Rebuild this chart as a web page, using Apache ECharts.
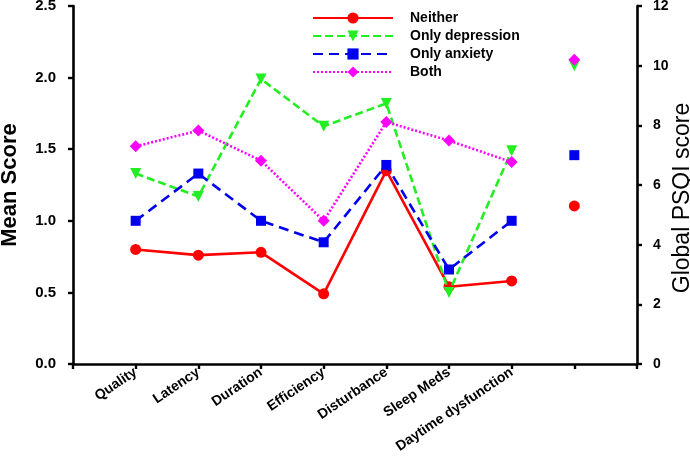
<!DOCTYPE html>
<html><head><meta charset="utf-8">
<script src="https://cdn.jsdelivr.net/npm/echarts@6/dist/echarts.min.js"></script>
<style>html,body{margin:0;padding:0;background:#fff}#c{width:690px;height:461px}</style>
</head><body><div id="c"></div>
<script>
var categories = ['', 'Quality', 'Latency', 'Duration', 'Efficiency', 'Disturbance', 'Sleep Meds', 'Daytime dysfunction', '', ''];
var seriesNames = ['Neither', 'Only depression', 'Only anxiety', 'Both'];
var neither = [0.80, 0.76, 0.78, 0.49, 1.35, 0.54, 0.58];
var onlyDepression = [1.33, 1.17, 1.99, 1.66, 1.82, 0.50, 1.49];
var onlyAnxiety = [1.00, 1.33, 1.00, 0.85, 1.39, 0.66, 1.00];
var both = [1.52, 1.63, 1.42, 1.00, 1.69, 1.56, 1.41];
var globalPSQI = [5.3, 10.0, 7.0, 10.2];
var leftTitle = 'Mean Score';
var rightTitle = 'Global PSQI score';

var font = 'Liberation Sans, Arial, sans-serif';
var styles = [
  {color: '#ff0000', type: 'solid', symbol: 'circle', size: 11, rot: 0},
  {color: '#22ee22', type: [8, 4], symbol: 'triangle', size: 11, rot: 180},
  {color: '#0000ee', type: [10, 6], symbol: 'rect', size: 10, rot: 0},
  {color: '#ff00ff', type: [2, 2], symbol: 'diamond', size: 12, rot: 0}
];
var values = [neither, onlyDepression, onlyAnxiety, both];

function pad(arr) { return [null].concat(arr).concat([null, null]); }
function globalPad(v) { var a = []; for (var i = 0; i < categories.length; i++) a.push(i === 8 ? v : null); return a; }

var series = [];
seriesNames.forEach(function (n, i) {
  var s = styles[i];
  series.push({
    name: n, type: 'line', yAxisIndex: 0, data: pad(values[i]),
    symbol: s.symbol, symbolSize: s.size, symbolRotate: s.rot, showAllSymbol: true,
    itemStyle: {color: s.color},
    lineStyle: {color: s.color, width: 2.6, type: s.type},
    connectNulls: false, animation: false, z: 2 + i
  });
});
seriesNames.forEach(function (n, i) {
  var s = styles[i];
  series.push({
    name: n, type: 'line', yAxisIndex: 1, data: globalPad(globalPSQI[i]),
    symbol: s.symbol, symbolSize: s.size, symbolRotate: s.rot, showAllSymbol: true,
    itemStyle: {color: s.color}, lineStyle: {width: 0},
    animation: false, z: 2 + i
  });
});

var chart = echarts.init(document.getElementById('c'));
chart.setOption({
  backgroundColor: '#fff',
  animation: false,
  grid: {left: 73, right: 53, top: 6, bottom: 97, containLabel: false, outerBoundsMode: 'none'},
  legend: {
    data: seriesNames, orient: 'vertical', left: 307, top: 6,
    itemWidth: 80, itemHeight: 14, itemGap: 4,
    textStyle: {fontFamily: font, fontWeight: 'bold', fontSize: 14, color: '#000', padding: [0, 0, 0, 12]}
  },
  graphic: [{
    type: 'text', x: 683, y: 198, rotation: Math.PI / 2,
    style: {text: rightTitle, fontFamily: font, fontSize: 23, fontWeight: 'normal', fill: '#000',
      textAlign: 'center', textVerticalAlign: 'middle'}
  }],
  xAxis: {
    type: 'category', data: categories, boundaryGap: false,
    axisLine: {lineStyle: {color: '#000', width: 2.6}},
    axisTick: {show: true, interval: 0, length: 5, lineStyle: {color: '#000', width: 2.4}},
    axisLabel: {interval: 0, rotate: 34, margin: 7, fontFamily: font, fontWeight: 'bold', fontSize: 14, color: '#000'},
    splitLine: {show: false}
  },
  yAxis: [{
    type: 'value', min: 0, max: 2.5, interval: 0.5,
    name: leftTitle, nameLocation: 'middle', nameGap: 52,
    nameTextStyle: {fontFamily: font, fontWeight: 'bold', fontSize: 22, color: '#000'},
    axisLine: {show: true, lineStyle: {color: '#000', width: 2.6}},
    axisTick: {show: true, length: 5, lineStyle: {color: '#000', width: 2.4}},
    axisLabel: {margin: 17, fontFamily: font, fontWeight: 'bold', fontSize: 15, color: '#000',
      formatter: function (v) { return v.toFixed(1); }},
    splitLine: {show: false}
  }, {
    type: 'value', min: 0, max: 12, interval: 2, position: 'right',
    axisLine: {show: true, lineStyle: {color: '#000', width: 2.6}},
    axisTick: {show: true, length: 5, lineStyle: {color: '#000', width: 2.4}},
    axisLabel: {margin: 16, fontFamily: font, fontWeight: 'bold', fontSize: 14, color: '#000'},
    splitLine: {show: false}
  }],
  series: series
});
</script></body></html>
